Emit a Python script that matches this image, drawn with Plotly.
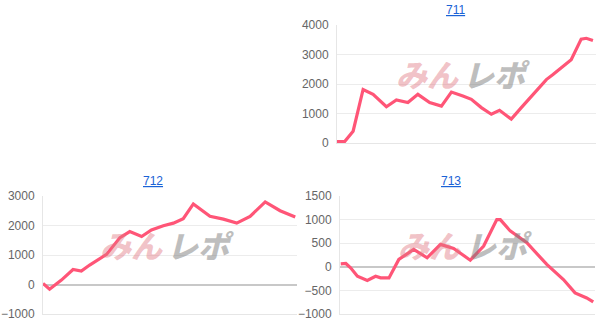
import plotly.graph_objects as go

# ---- data (x: relative play position 0-100, y: medal difference) ----
x711 = [0, 3, 6.3, 10.2, 14.1, 19.3, 23.2, 27.7, 31.6, 36.2, 40.8, 44.7, 49.2, 52.5,
        56.4, 60.3, 63.5, 68.1, 72, 76.6, 81.8, 84.4, 88.3, 91.5, 95.4, 97.4, 100]
y711 = [50, 50, 400, 1815, 1650, 1230, 1460, 1370, 1650, 1370, 1250, 1725, 1590, 1480,
        1200, 975, 1110, 810, 1200, 1650, 2150, 2320, 2600, 2820, 3520, 3550, 3475]

x712 = [0, 2.6, 7.3, 11.9, 15.2, 18.5, 25.2, 30.5, 34.4, 39.1, 43, 47.7, 51.7, 55.6,
        59.6, 66.2, 71.5, 76.8, 82.1, 88.1, 94, 100]
y712 = [35, -160, 150, 510, 455, 660, 1020, 1590, 1795, 1625, 1850, 1990, 2080, 2230,
        2730, 2310, 2215, 2080, 2310, 2800, 2500, 2285]

x713 = [0, 2, 3.9, 6.6, 10.5, 13.8, 15.8, 19.1, 23, 28.9, 34.2, 39.5, 44.7, 51.3,
        56.6, 61.8, 63.2, 67.1, 73.7, 81.6, 88.2, 92.8, 97.4, 100]
y713 = [64, 71, -21, -200, -290, -200, -235, -235, 156, 370, 190, 475, 390, 140,
        440, 1000, 1000, 760, 510, 50, -270, -553, -660, -745]

titles = ["711", "712", "713"]
yticks711 = [0, 1000, 2000, 3000, 4000]
yticks712 = [-1000, 0, 1000, 2000, 3000]
yticks713 = [-1000, -500, 0, 500, 1000, 1500]

W, H = 605, 333
LINE = "#ff5577"

fig = go.Figure()

panels = [
    (x711, y711, (337, 595.5), (25, 143), [0, 4000], yticks711, [0, 101], 455),
    (x712, y712, (43, 297), (196, 314), [-1000, 3000], yticks712, [0, 100.7], 153),
    (x713, y713, (340, 595), (196, 314), [-1000, 1500], yticks713, [-0.3, 100.7], 451),
]

for i, (xs, ys, (xl, xr), (yt, yb), yr, yt_vals, xrng, tx) in enumerate(panels):
    sfx = "" if i == 0 else str(i + 1)
    fig.add_trace(go.Scatter(x=xs, y=ys, mode="lines", xaxis="x" + sfx, yaxis="y" + sfx,
                             line=dict(color=LINE, width=3.2), hoverinfo="skip",
                             showlegend=False))
    fig.layout["xaxis" + sfx] = dict(
        domain=[xl / W, xr / W], range=xrng, showticklabels=False, showgrid=False,
        zeroline=False, showline=True, linecolor="#e6e6e6", linewidth=1,
        anchor="y" + sfx, fixedrange=True, automargin=False)
    fig.layout["yaxis" + sfx] = dict(
        domain=[1 - yb / H, 1 - yt / H], range=yr, tickvals=yt_vals,
        showgrid=True, gridcolor="#ececec", gridwidth=1,
        zeroline=True, zerolinecolor="#c8c8c8", zerolinewidth=1.5,
        showline=True, linecolor="#e6e6e6", linewidth=1,
        ticks="outside", ticklen=5, tickcolor="rgba(0,0,0,0)",
        tickfont=dict(family="Arial, Liberation Sans, sans-serif", size=12, color="#666"),
        anchor="x" + sfx, fixedrange=True, automargin=False)
    # title (link style)
    fig.add_annotation(text="<u>" + titles[i] + "</u>", xref="paper", yref="paper",
                       x=tx / W, y=1 - (yt - 15) / H, showarrow=False,
                       xanchor="center", yanchor="middle",
                       font=dict(family="Arial, Liberation Sans, sans-serif", size=12,
                                 color="#1a62d6"))
    # watermark
    cx = (xl + xr) / 2 / W
    cy = 1 - ((yt + yb) / 2 - 11) / H
    fig.add_annotation(text="<i>みん</i>", xref="paper", yref="paper",
                       x=cx - 0.008, y=cy, xanchor="right", yanchor="middle",
                       showarrow=False,
                       font=dict(family="Noto Sans CJK JP", size=31, weight=900,
                                 color="rgba(225,120,130,0.45)"))
    fig.add_annotation(text="<i>レポ</i>", xref="paper", yref="paper",
                       x=cx - 0.008, y=cy, xanchor="left", yanchor="middle",
                       showarrow=False,
                       font=dict(family="Noto Sans CJK JP", size=31, weight=900,
                                 color="rgba(125,125,125,0.5)"))

fig.update_layout(width=W, height=H,
                  margin=dict(l=0, r=0, t=0, b=0, pad=0, autoexpand=False),
                  paper_bgcolor="white", plot_bgcolor="white")

fig.write_html("out.html")
